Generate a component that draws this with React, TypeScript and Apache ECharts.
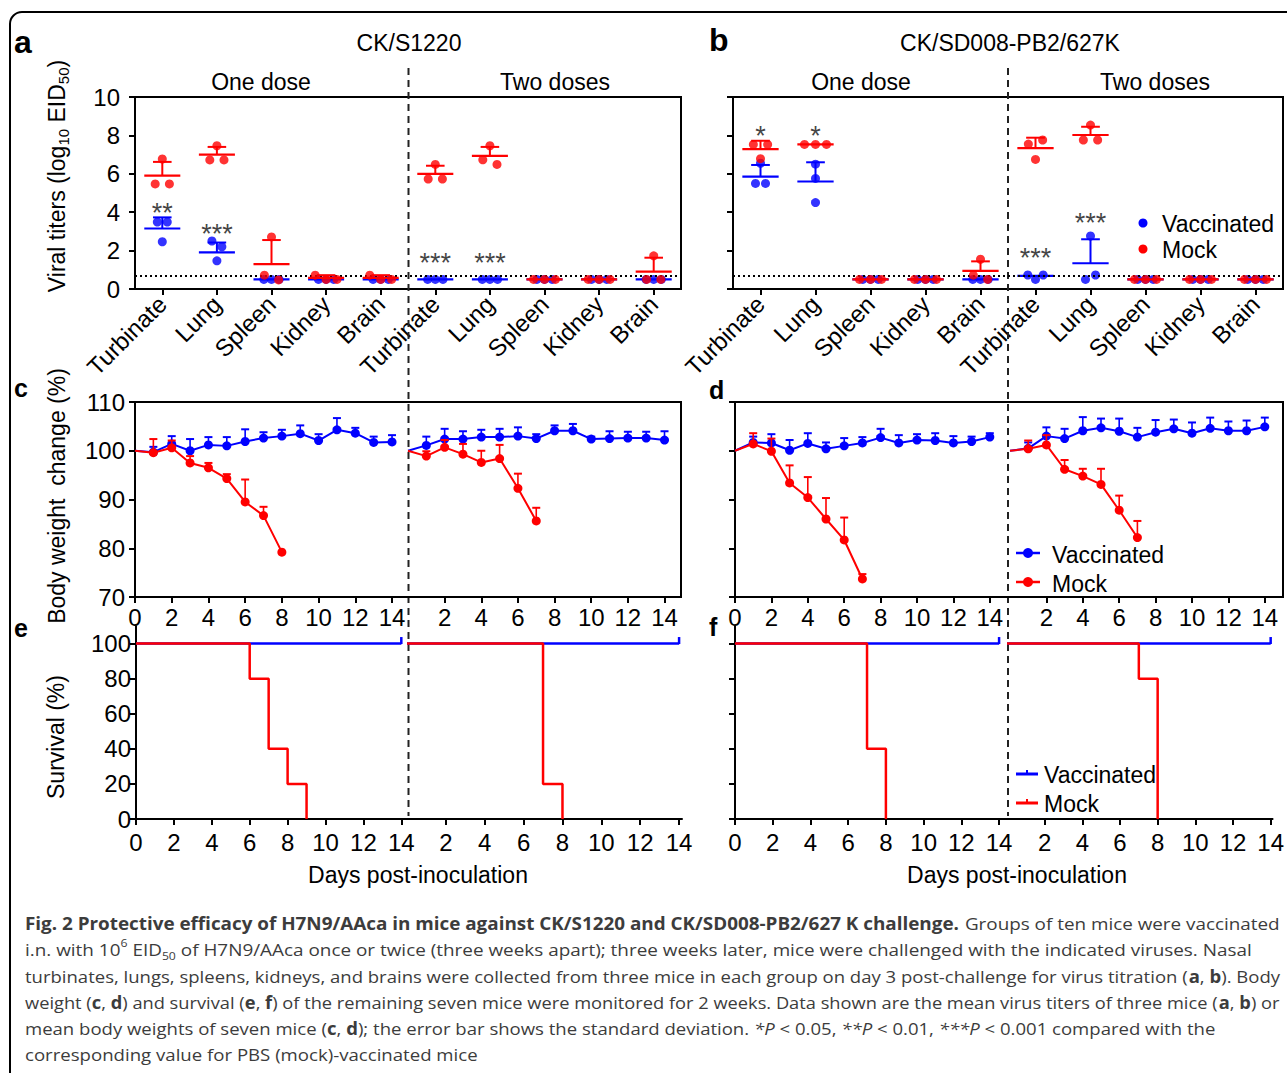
import React, { useEffect, useRef } from 'react';
import * as echarts from 'echarts';

const FONT = '"Liberation Sans", Arial, Helvetica, sans-serif';
const CAP_FONT = '"Open Sans", "Noto Sans", sans-serif';
const BLUE = '#0000ff';
const RED = '#ff0000';
const BLACK = '#000000';

// ---------- panel a / b : viral titers ----------
const organs = ['Turbinate', 'Lung', 'Spleen', 'Kidney', 'Brain'];
const organIdx = [0, 1, 2, 3, 4, 5, 6, 7, 8, 9];
const titerTicks = [0, 2, 4, 6, 8, 10];
const LOD = 0.7;

// CK/S1220 (index 0-4 one dose, 5-9 two doses)
const aVacPts = [
  [3.49, 3.49, 2.46], [2.5, 2.2, 1.47], [0.5, 0.5, 0.5], [0.5, 0.5, 0.5], [0.5, 0.5, 0.5],
  [0.5, 0.5, 0.5], [0.5, 0.5, 0.5], [0.5, 0.5, 0.5], [0.5, 0.5, 0.5], [0.5, 0.5, 0.5],
];
const aVacMean = [3.15, 1.91, 0.5, 0.5, 0.5, 0.5, 0.5, 0.5, 0.5, 0.5];
const aVacTop = [3.73, 2.42, 0.5, 0.5, 0.5, 0.5, 0.5, 0.5, 0.5, 0.5];
const aMockPts = [
  [6.77, 5.47, 5.47], [7.46, 6.72, 6.72], [2.71, 0.72, 0.47], [0.72, 0.5, 0.5], [0.72, 0.5, 0.5],
  [6.49, 5.73, 5.73], [7.46, 6.73, 6.49], [0.5, 0.5, 0.5], [0.5, 0.5, 0.5], [1.73, 0.5, 0.5],
];
const aMockMean = [5.9, 7.0, 1.3, 0.58, 0.58, 6.0, 6.93, 0.5, 0.5, 0.9];
const aMockTop = [6.62, 7.4, 2.55, 0.72, 0.72, 6.42, 7.4, 0.5, 0.5, 1.63];
const aSigIdx = [0, 1, 5, 6];
const aSigText = ['**', '***', '***', '***'];
const aSigY = [4.4, 3.3, 1.75, 1.75];

// CK/SD008-PB2/627K
const bVacPts = [
  [6.55, 5.5, 5.5], [6.5, 5.76, 4.5], [0.5, 0.5, 0.5], [0.5, 0.5, 0.5], [0.5, 0.5, 0.5],
  [0.73, 0.5, 0.73], [2.76, 0.5, 0.73], [0.5, 0.5, 0.5], [0.5, 0.5, 0.5], [0.5, 0.5, 0.5],
];
const bVacMean = [5.85, 5.6, 0.5, 0.5, 0.5, 0.68, 1.34, 0.5, 0.5, 0.5];
const bVacTop = [6.46, 6.6, 0.5, 0.5, 0.5, 0.68, 2.59, 0.5, 0.5, 0.5];
const bMockPts = [
  [7.53, 7.53, 6.79], [7.53, 7.53, 7.53], [0.5, 0.5, 0.5], [0.5, 0.5, 0.5], [1.55, 0.72, 0.5],
  [7.55, 7.76, 6.75], [8.54, 7.76, 7.76], [0.5, 0.5, 0.5], [0.5, 0.5, 0.5], [0.5, 0.5, 0.5],
];
const bMockMean = [7.29, 7.53, 0.5, 0.5, 0.94, 7.34, 8.02, 0.5, 0.5, 0.5];
const bMockTop = [7.72, 7.53, 0.5, 0.5, 1.44, 7.88, 8.45, 0.5, 0.5, 0.5];
const bSigIdx = [0, 1, 5, 6];
const bSigText = ['*', '*', '***', '***'];
const bSigY = [8.4, 8.4, 2.05, 3.85];

// ---------- panel c / d : body weight ----------
const days = [0, 1, 2, 3, 4, 5, 6, 7, 8, 9, 10, 11, 12, 13, 14];
const weightTicks = [70, 80, 90, 100, 110];
const dayTicks = [0, 2, 4, 6, 8, 10, 12, 14];
const dayTicks2 = [2, 4, 6, 8, 10, 12, 14];

const c1Vac = [100, 99.7, 101.4, 100.0, 101.2, 101.0, 101.9, 102.6, 103.0, 103.5, 102.1, 104.3, 103.6, 101.7, 101.8];
const c1VacTop = [100, 100.8, 103.0, 102.4, 102.8, 102.8, 104.4, 103.8, 104.3, 105.2, 103.4, 106.7, 104.7, 102.9, 103.2];
const c1Mock = [100, 99.6, 100.6, 97.5, 96.5, 94.3, 89.5, 86.7, 79.2];
const c1MockTop = [100, 102.4, 102.1, 98.9, 97.5, 95.2, 94.1, 88.5, 79.2];

const c2Vac = [100, 101.1, 102.4, 102.4, 102.8, 102.8, 103.0, 102.5, 104.1, 104.1, 102.4, 102.5, 102.6, 102.6, 102.2];
const c2VacTop = [100, 102.9, 104.5, 104.0, 104.3, 104.5, 104.8, 103.4, 105.2, 105.5, 102.9, 104.0, 103.9, 103.9, 104.0];
const c2Mock = [100, 98.9, 100.7, 99.3, 97.6, 98.4, 92.3, 85.6];
const c2MockTop = [100, 99.9, 102.2, 101.4, 100.0, 101.2, 95.3, 88.3];

const d1Vac = [100, 101.7, 101.6, 100.1, 101.5, 100.4, 101.0, 101.6, 102.7, 101.6, 102.2, 102.1, 101.6, 101.9, 102.8];
const d1VacTop = [100, 102.9, 103.4, 102.2, 103.6, 101.7, 102.6, 102.8, 104.5, 103.2, 103.4, 103.6, 103.0, 102.9, 103.6];
const d1Mock = [100, 101.4, 99.9, 93.4, 90.4, 86.0, 81.7, 73.7];
const d1MockTop = [100, 103.6, 102.5, 97.0, 94.6, 90.3, 86.3, 74.7];

const d2Vac = [100, 100.5, 103.0, 102.5, 104.1, 104.7, 104.0, 102.8, 103.8, 104.5, 103.6, 104.6, 104.1, 104.1, 104.9];
const d2VacTop = [100, 101.7, 104.8, 104.5, 106.9, 106.6, 106.6, 104.7, 106.3, 106.4, 105.8, 106.8, 106.0, 106.2, 106.8];
const d2Mock = [100, 100.4, 101.2, 96.2, 94.8, 93.1, 87.8, 82.2];
const d2MockTop = [100, 102.1, 103.2, 98.1, 96.3, 96.3, 90.8, 85.6];

// ---------- panel e / f : survival ----------
const survTicks = [0, 20, 40, 60, 80, 100];
const vacSurvDays = [0, 14];
const vacSurv = [100, 100];
const e1MockDays = [0, 6, 7, 8, 9];
const e1Mock = [100, 80, 40, 20, 0];
const e2MockDays = [0, 7, 8];
const e2Mock = [100, 20, 0];
const f1MockDays = [0, 7, 8];
const f1Mock = [100, 40, 0];
const f2MockDays = [0, 7, 8];
const f2Mock = [100, 80, 0];

// ---------- caption ----------
type Seg = [string, string];
const captionLines: Seg[][] = [
  [['b', 'Fig. 2 Protective efficacy of H7N9/AAca in mice against CK/S1220 and CK/SD008-PB2/627 K challenge.'], ['r', ' Groups of ten mice were vaccinated']],
  [['r', 'i.n. with 10'], ['sup', '6'], ['r', ' EID'], ['sub', '50'], ['r', ' of H7N9/AAca once or twice (three weeks apart); three weeks later, mice were challenged with the indicated viruses. Nasal']],
  [['r', 'turbinates, lungs, spleens, kidneys, and brains were collected from three mice in each group on day 3 post-challenge for virus titration ('], ['b', 'a'], ['r', ', '], ['b', 'b'], ['r', '). Body']],
  [['r', 'weight ('], ['b', 'c'], ['r', ', '], ['b', 'd'], ['r', ') and survival ('], ['b', 'e'], ['r', ', '], ['b', 'f'], ['r', ') of the remaining seven mice were monitored for 2 weeks. Data shown are the mean virus titers of three mice ('], ['b', 'a'], ['r', ', '], ['b', 'b'], ['r', ') or']],
  [['r', 'mean body weights of seven mice ('], ['b', 'c'], ['r', ', '], ['b', 'd'], ['r', '); the error bar shows the standard deviation. '], ['i', '*P'], ['r', ' < 0.05, '], ['i', '**P'], ['r', ' < 0.01, '], ['i', '***P'], ['r', ' < 0.001 compared with the']],
  [['r', 'corresponding value for PBS (mock)-vaccinated mice']],
];

// ---------- layout ----------
const G = {
  a: { left: 135, top: 97, width: 546, height: 192 },
  b: { left: 733, top: 97, width: 550, height: 192 },
  c1: { left: 135, top: 402, width: 273, height: 195, max: 14.87 },
  c2: { left: 408, top: 402, width: 273, height: 195, max: 14.9 },
  d1: { left: 735, top: 402, width: 273, height: 195, max: 15 },
  d2: { left: 1010, top: 402, width: 273, height: 195, max: 15 },
  e1: { left: 136, top: 626, width: 271, height: 193, max: 14.3 },
  e2: { left: 407, top: 626, width: 275, height: 193, max: 14.15 },
  f1: { left: 735, top: 626, width: 272, height: 193, max: 14.42 },
  f2: { left: 1007, top: 626, width: 277, height: 193, max: 14.1 },
};
const TICK_FONT = 24;
const CAP_X = 25;
const CAP_Y = [923, 949, 976, 1002, 1028, 1054];
const CAP_RIGHT = [1280, 1252, 1280, 1279, 1215, 478];
const CAP_SIZE = 17;

function jitter(vals: number[], w: number): number[] {
  const off = vals.map(() => 0);
  const used = vals.map(() => false);
  for (let i = 0; i < vals.length; i++) {
    if (used[i]) continue;
    const cl = [i];
    used[i] = true;
    for (let j = i + 1; j < vals.length; j++) {
      if (!used[j] && Math.abs(vals[j] - vals[i]) < 0.3) { cl.push(j); used[j] = true; }
    }
    if (cl.length === 2) { off[cl[0]] = -w * 0.65; off[cl[1]] = w * 0.65; }
    if (cl.length === 3) { off[cl[0]] = -w; off[cl[1]] = 0; off[cl[2]] = w; }
  }
  return off;
}

const axisLineS = { show: true, onZero: false, lineStyle: { color: BLACK, width: 2 } };

function xVal(gi: number, min: number, max: number, ticks: number[], labels: number[], extra: any = {}) {
  return {
    type: 'value', gridIndex: gi, min, max,
    axisLine: axisLineS,
    axisTick: { show: true, length: 6, lineStyle: { color: BLACK, width: 2 }, customValues: ticks },
    axisLabel: { show: labels.length > 0, customValues: labels, color: BLACK, fontSize: TICK_FONT, fontFamily: FONT, margin: 8, ...extra },
    splitLine: { show: false },
  };
}
function yVal(gi: number, min: number, max: number, ticks: number[], labels: number[], extra: any = {}) {
  return {
    type: 'value', gridIndex: gi, min, max,
    axisLine: axisLineS,
    axisTick: { show: true, length: 6, lineStyle: { color: BLACK, width: 2 }, customValues: ticks },
    axisLabel: { show: labels.length > 0, customValues: labels, color: BLACK, fontSize: TICK_FONT, fontFamily: FONT, margin: 8, ...extra },
    splitLine: { show: false },
  };
}
function yHidden(gi: number, min: number, max: number) {
  return { type: 'value', gridIndex: gi, min, max, show: false, splitLine: { show: false } };
}

const meanRender = (color: string) => (params: any, api: any) => {
  const x = api.value(0), m = api.value(1), t = api.value(2);
  const l = api.coord([x - 0.33, m]), r = api.coord([x + 0.33, m]);
  const children: any[] = [
    { type: 'line', shape: { x1: l[0], y1: l[1], x2: r[0], y2: r[1] }, style: { stroke: color, lineWidth: 2.2 } },
  ];
  if (t - m > 0.02) {
    const p = api.coord([x, m]), q = api.coord([x, t]);
    const cl = api.coord([x - 0.17, t]), cr = api.coord([x + 0.17, t]);
    children.push({ type: 'line', shape: { x1: p[0], y1: p[1], x2: q[0], y2: q[1] }, style: { stroke: color, lineWidth: 2 } });
    children.push({ type: 'line', shape: { x1: cl[0], y1: cl[1], x2: cr[0], y2: cr[1] }, style: { stroke: color, lineWidth: 2 } });
  }
  return { type: 'group', children };
};

const errRender = (color: string) => (params: any, api: any) => {
  const x = api.value(0), v = api.value(1), t = api.value(2);
  const p = api.coord([x, v]), q = api.coord([x, t]);
  return {
    type: 'group',
    children: [
      { type: 'line', shape: { x1: p[0], y1: p[1], x2: q[0], y2: q[1] }, style: { stroke: color, lineWidth: 1.6 } },
      { type: 'line', shape: { x1: q[0] - 4, y1: q[1], x2: q[0] + 4, y2: q[1] }, style: { stroke: color, lineWidth: 2 } },
    ],
  };
};

function titerSeries(gi: number, vacPts: number[][], vacMean: number[], vacTop: number[],
  mockPts: number[][], mockMean: number[], mockTop: number[],
  sigIdx: number[], sigText: string[], sigY: number[]) {
  const pts = (groups: number[][], w: number) => groups.flatMap((g, i) => {
    const off = jitter(g, w);
    return g.map((v, k) => [organIdx[i] + off[k], v]);
  });
  return [
    {
      type: 'scatter', name: 'Vaccinated', xAxisIndex: gi, yAxisIndex: gi, z: 3,
      data: pts(vacPts, 0.14), symbolSize: 9, itemStyle: { color: BLUE },
      markLine: {
        silent: true, symbol: ['none', 'none'], label: { show: false },
        lineStyle: { color: BLACK, width: 2, type: [2, 3] },
        data: [{ yAxis: LOD }],
      },
    },
    {
      type: 'custom', name: 'Vaccinated', xAxisIndex: gi, yAxisIndex: gi, z: 4,
      renderItem: meanRender(BLUE), data: vacMean.map((m, i) => [organIdx[i], m, vacTop[i]]),
    },
    {
      type: 'scatter', name: 'Mock', xAxisIndex: gi, yAxisIndex: gi, z: 5,
      data: pts(mockPts, 0.2), symbolSize: 9, itemStyle: { color: RED },
    },
    {
      type: 'custom', name: 'Mock', xAxisIndex: gi, yAxisIndex: gi, z: 6,
      renderItem: meanRender(RED), data: mockMean.map((m, i) => [organIdx[i], m, mockTop[i]]),
    },
    {
      type: 'scatter', name: 'sig', xAxisIndex: gi, yAxisIndex: gi, z: 7, symbolSize: 1,
      itemStyle: { color: 'rgba(0,0,0,0)' },
      label: { show: true, position: 'inside', formatter: '{b}', color: '#111', fontSize: 27, fontFamily: FONT, offset: [0, 8] },
      data: sigIdx.map((ix, i) => ({ name: sigText[i], value: [ix, sigY[i]] })),
    },
  ];
}

function weightSeries(gi: number, vac: number[], vacTop: number[], mock: number[], mockTop: number[]) {
  const line = (vals: number[], color: string, name: string, z: number) => ({
    type: 'line', name, xAxisIndex: gi, yAxisIndex: gi, z,
    symbol: 'circle', symbolSize: 9, showSymbol: true,
    lineStyle: { color, width: 2 }, itemStyle: { color },
    data: vals.map((v, i) => (i === 0 ? { value: [days[i], v], symbolSize: 0 } : [days[i], v])),
  });
  const err = (vals: number[], tops: number[], color: string, name: string, z: number) => ({
    type: 'custom', name, xAxisIndex: gi, yAxisIndex: gi, z,
    renderItem: errRender(color),
    data: vals.map((v, i) => [days[i], v, tops[i]]).filter((d) => d[2] > d[1] + 0.05),
  });
  return [
    err(vac, vacTop, BLUE, 'Vaccinated', 3),
    line(vac, BLUE, 'Vaccinated', 4),
    err(mock, mockTop, RED, 'Mock', 5),
    line(mock, RED, 'Mock', 6),
  ];
}

function survSeries(gi: number, mockDays: number[], mockVals: number[]) {
  return [
    {
      type: 'line', name: 'Vaccinated', xAxisIndex: gi, yAxisIndex: gi, z: 3,
      symbol: 'rect', showSymbol: true, lineStyle: { color: BLUE, width: 2.5 }, itemStyle: { color: BLUE },
      data: [
        { value: [vacSurvDays[0], vacSurv[0]], symbolSize: 0 },
        { value: [vacSurvDays[1], vacSurv[1]], symbolSize: [2.5, 7], symbolOffset: [0, -3] },
      ],
    },
    {
      type: 'line', name: 'Mock', xAxisIndex: gi, yAxisIndex: gi, z: 4, step: 'end',
      symbol: 'none', showSymbol: false, lineStyle: { color: RED, width: 2.5 },
      data: mockDays.map((d, i) => [d, mockVals[i]]),
    },
  ];
}

// ---------- text helpers ----------
const capStyles: any = {
  r: { fontFamily: CAP_FONT, fontSize: CAP_SIZE, color: '#3c3c3c', lineHeight: 24 },
  b: { fontFamily: CAP_FONT, fontSize: CAP_SIZE, fontWeight: 'bold', color: '#111', lineHeight: 24 },
  i: { fontFamily: CAP_FONT, fontSize: CAP_SIZE, fontStyle: 'italic', color: '#3c3c3c', lineHeight: 24 },
  sup: { fontFamily: CAP_FONT, fontSize: 11, color: '#3c3c3c', lineHeight: 14, verticalAlign: 'top' },
  sub: { fontFamily: CAP_FONT, fontSize: 11, color: '#3c3c3c', lineHeight: 16, verticalAlign: 'bottom' },
};
function measureSegs(segs: Seg[]): number {
  const ctx = document.createElement('canvas').getContext('2d');
  if (!ctx) return 1;
  let w = 0;
  for (const [k, t] of segs) {
    const s = capStyles[k];
    ctx.font = `${s.fontStyle === 'italic' ? 'italic ' : ''}${s.fontWeight === 'bold' ? 'bold ' : ''}${s.fontSize}px ${s.fontFamily}`;
    w += ctx.measureText(t).width;
  }
  return w || 1;
}

function txt(text: string, x: number, y: number, size: number, extra: any = {}, elExtra: any = {}) {
  return {
    type: 'text', x, y, silent: true, ...elExtra,
    style: { text, fontSize: size, fontFamily: FONT, fill: BLACK, align: 'center', verticalAlign: 'middle', ...extra },
  };
}

function buildOption() {
  const grids = [G.a, G.b, G.c1, G.c2, G.d1, G.d2, G.e1, G.e2, G.f1, G.f2].map((g, i) => ({
    left: g.left, top: g.top, width: g.width, height: g.height,
    show: i < 2, borderColor: BLACK, borderWidth: 2, backgroundColor: 'transparent',
  }));

  const catLabel = {
    rotate: 45, fontSize: 24, margin: 11,
    formatter: (v: number) => organs[Math.round(v) % 5],
  };

  const xAxis = [
    xVal(0, -0.5, 9.5, organIdx, organIdx, catLabel),
    xVal(1, -0.5, 9.5, organIdx, organIdx, catLabel),
    xVal(2, 0, G.c1.max, dayTicks, dayTicks),
    xVal(3, 0, G.c2.max, dayTicks2, dayTicks2),
    xVal(4, 0, G.d1.max, dayTicks, dayTicks),
    xVal(5, 0, G.d2.max, dayTicks2, dayTicks2),
    xVal(6, 0, G.e1.max, dayTicks, dayTicks, { margin: 11 }),
    xVal(7, 0, G.e2.max, dayTicks2, dayTicks2, { margin: 11 }),
    xVal(8, 0, G.f1.max, dayTicks, dayTicks, { margin: 11 }),
    xVal(9, 0, G.f2.max, dayTicks2, dayTicks2, { margin: 11 }),
  ];
  const yAxis = [
    yVal(0, 0, 10, titerTicks, titerTicks, { margin: 15 }),
    yVal(1, 0, 10, titerTicks, []),
    yVal(2, 70, 110, weightTicks, weightTicks, { margin: 10 }),
    yHidden(3, 70, 110),
    yVal(4, 70, 110, weightTicks, []),
    yHidden(5, 70, 110),
    yVal(6, 0, 110, survTicks, survTicks, { margin: 5 }),
    yHidden(7, 0, 110),
    yVal(8, 0, 110, survTicks, []),
    yHidden(9, 0, 110),
  ];

  const series = [
    ...titerSeries(0, aVacPts, aVacMean, aVacTop, aMockPts, aMockMean, aMockTop, aSigIdx, aSigText, aSigY),
    ...titerSeries(1, bVacPts, bVacMean, bVacTop, bMockPts, bMockMean, bMockTop, bSigIdx, bSigText, bSigY),
    ...weightSeries(2, c1Vac, c1VacTop, c1Mock, c1MockTop),
    ...weightSeries(3, c2Vac, c2VacTop, c2Mock, c2MockTop),
    ...weightSeries(4, d1Vac, d1VacTop, d1Mock, d1MockTop),
    ...weightSeries(5, d2Vac, d2VacTop, d2Mock, d2MockTop),
    ...survSeries(6, e1MockDays, e1Mock),
    ...survSeries(7, e2MockDays, e2Mock),
    ...survSeries(8, f1MockDays, f1Mock),
    ...survSeries(9, f2MockDays, f2Mock),
  ];

  const dash = (x: number) => ({
    type: 'line', silent: true, z: 1,
    shape: { x1: x, y1: 68, x2: x, y2: 816 },
    style: { stroke: '#222', lineWidth: 2, lineDash: [7, 5] },
  });
  const box = (x1: number, x2: number, top: number, h: number) => ({
    type: 'rect', silent: true, z: 1,
    shape: { x: x1, y: top, width: x2 - x1, height: h },
    style: { fill: 'none', stroke: BLACK, lineWidth: 2 },
  });

  const yTitleRich = {
    n: { fontSize: 23, fontFamily: FONT, lineHeight: 28, color: BLACK },
    s: { fontSize: 15, fontFamily: FONT, lineHeight: 16, verticalAlign: 'bottom', color: BLACK },
  };

  const dotLegend = (x: number, y: number, color: string, label: string) => [
    { type: 'circle', silent: true, shape: { cx: x, cy: y, r: 4.5 }, style: { fill: color } },
    txt(label, x + 19, y + 1, 23, { align: 'left' }),
  ];
  const lineDotLegend = (x: number, y: number, color: string, label: string) => [
    { type: 'line', silent: true, shape: { x1: x - 12, y1: y, x2: x + 12, y2: y }, style: { stroke: color, lineWidth: 2.5 } },
    { type: 'circle', silent: true, shape: { cx: x, cy: y, r: 5 }, style: { fill: color } },
    txt(label, x + 24, y + 2, 23, { align: 'left' }),
  ];
  const lineTickLegend = (x: number, y: number, color: string, label: string) => [
    { type: 'line', silent: true, shape: { x1: x - 11, y1: y, x2: x + 11, y2: y }, style: { stroke: color, lineWidth: 3 } },
    { type: 'line', silent: true, shape: { x1: x, y1: y, x2: x, y2: y - 4 }, style: { stroke: color, lineWidth: 2 } },
    txt(label, x + 17, y + 1, 23, { align: 'left' }),
  ];

  const caption = captionLines.map((segs, i) => {
    const w = measureSegs(segs);
    const sx = (CAP_RIGHT[i] - CAP_X) / w;
    return {
      type: 'text', silent: true, x: CAP_X, y: CAP_Y[i], scaleX: sx,
      style: {
        text: segs.map(([k, t]) => `{${k}|${t}}`).join(''),
        rich: capStyles, align: 'left', verticalAlign: 'middle',
        fontFamily: CAP_FONT, fontSize: CAP_SIZE, fill: '#3c3c3c',
      },
    };
  });

  const graphic = [
    { type: 'rect', silent: true, z: 0, shape: { x: 10, y: 12, width: 1300, height: 1100, r: 12 }, style: { fill: 'none', stroke: BLACK, lineWidth: 2 } },
    dash(408.5),
    dash(1008),
    box(G.c1.left, G.c2.left + G.c2.width, G.c1.top, G.c1.height),
    box(G.d1.left, G.d2.left + G.d2.width, G.d1.top, G.d1.height),
    // panel letters
    txt('a', 14, 42, 32, { fontWeight: 'bold', align: 'left' }),
    txt('b', 709, 40, 32, { fontWeight: 'bold', align: 'left' }),
    txt('c', 14, 388, 25, { fontWeight: 'bold', align: 'left' }),
    txt('d', 709, 390, 25, { fontWeight: 'bold', align: 'left' }),
    txt('e', 14, 628, 25, { fontWeight: 'bold', align: 'left' }),
    txt('f', 709, 627, 25, { fontWeight: 'bold', align: 'left' }),
    // titles
    txt('CK/S1220', 409, 43, 23),
    txt('CK/SD008-PB2/627K', 1010, 43, 23),
    txt('One dose', 261, 82, 23),
    txt('Two doses', 555, 82, 23),
    txt('One dose', 861, 82, 23),
    txt('Two doses', 1155, 82, 23),
    // axis titles
    {
      type: 'text', silent: true, x: 57, y: 176, rotation: Math.PI / 2,
      style: { text: '{n|Viral titers (log}{s|10}{n| EID}{s|50}{n|)}', rich: yTitleRich, align: 'center', verticalAlign: 'middle', fontFamily: FONT, fontSize: 23, fill: BLACK },
    },
    txt('Body weight  change (%)', 57, 496, 23, {}, { rotation: Math.PI / 2 }),
    txt('Survival (%)', 56, 737, 23, {}, { rotation: Math.PI / 2 }),
    txt('Days post-inoculation', 418, 875, 23),
    txt('Days post-inoculation', 1017, 875, 23),
    // legends
    ...dotLegend(1143, 223, BLUE, 'Vaccinated'),
    ...dotLegend(1143, 249, RED, 'Mock'),
    ...lineDotLegend(1028, 553, BLUE, 'Vaccinated'),
    ...lineDotLegend(1028, 582, RED, 'Mock'),
    ...lineTickLegend(1027, 774, BLUE, 'Vaccinated'),
    ...lineTickLegend(1027, 803, RED, 'Mock'),
    ...caption,
  ];

  return {
    animation: false,
    backgroundColor: '#ffffff',
    textStyle: { fontFamily: FONT },
    grid: grids,
    xAxis,
    yAxis,
    series,
    graphic,
  };
}

export default function App() {
  const ref = useRef<HTMLDivElement>(null);
  useEffect(() => {
    if (!ref.current) return;
    const chart = echarts.init(ref.current, null, { renderer: 'svg' });
    chart.setOption(buildOption() as any);
    return () => chart.dispose();
  }, []);
  return (
    <div
      ref={ref}
      style={{ position: 'absolute', left: 0, top: 0, width: 1287, height: 1073, background: '#ffffff' }}
    />
  );
}
